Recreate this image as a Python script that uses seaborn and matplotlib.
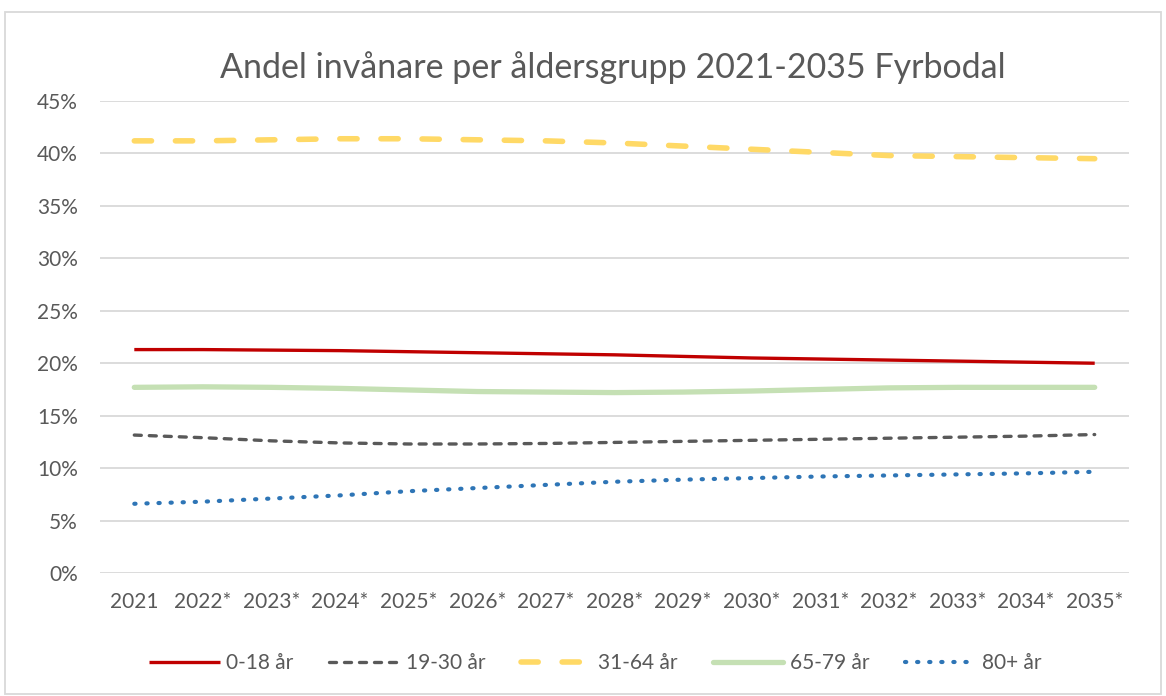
import matplotlib
matplotlib.use("Agg")
import matplotlib.pyplot as plt
import seaborn as sns
import pandas as pd
from matplotlib.patches import Rectangle
from matplotlib.ticker import FuncFormatter

years = ["2021", "2022*", "2023*", "2024*", "2025*", "2026*", "2027*", "2028*",
         "2029*", "2030*", "2031*", "2032*", "2033*", "2034*", "2035*"]

age_0_18 = [21.3, 21.3, 21.25, 21.2, 21.1, 21.0, 20.9, 20.8, 20.65, 20.5, 20.4, 20.3, 20.2, 20.1, 20.0]
age_19_30 = [13.15, 12.9, 12.6, 12.4, 12.3, 12.3, 12.35, 12.45, 12.55, 12.65, 12.75, 12.85, 12.95, 13.05, 13.2]
age_31_64 = [41.2, 41.2, 41.3, 41.4, 41.4, 41.3, 41.2, 41.0, 40.7, 40.4, 40.1, 39.8, 39.7, 39.6, 39.5]
age_65_79 = [17.7, 17.75, 17.7, 17.6, 17.45, 17.3, 17.25, 17.2, 17.25, 17.35, 17.5, 17.65, 17.7, 17.7, 17.7]
age_80 = [6.6, 6.8, 7.1, 7.4, 7.8, 8.1, 8.4, 8.7, 8.9, 9.05, 9.2, 9.3, 9.4, 9.5, 9.65]

series_names = ["0-18 år", "19-30 år", "31-64 år", "65-79 år", "80+ år"]
series_values = [age_0_18, age_19_30, age_31_64, age_65_79, age_80]

styles = {
    "0-18 år": dict(color="#C00000", lw=2.4, ls="-", solid_capstyle="butt"),
    "19-30 år": dict(color="#595959", lw=2.4, ls=(0, (2.1, 2.4)), dash_capstyle="round"),
    "31-64 år": dict(color="#FFD966", lw=4.0, ls=(0, (3.1, 4.3)), dash_capstyle="round"),
    "65-79 år": dict(color="#C5E0B4", lw=3.8, ls="-", solid_capstyle="round"),
    "80+ år": dict(color="#2E75B6", lw=3.0, ls=(0, (0.3, 2.6)), dash_capstyle="round"),
}

sns.set_theme(style="white")
plt.rcParams["font.family"] = ["Lato", "DejaVu Sans"]
text_color = "#595959"
fs = 15

fig = plt.figure(figsize=(11.66, 6.96), dpi=100)
ax = fig.add_axes([100 / 1166, 1 - 573 / 696, 1029 / 1166, (573 - 101) / 696])

x_idx = list(range(len(years)))
for name, vals in zip(series_names, series_values):
    df = pd.DataFrame({"x": x_idx, "y": vals})
    st = styles[name]
    line_ax = sns.lineplot(data=df, x="x", y="y", ax=ax, color=st["color"], label=name)
    ln = line_ax.get_lines()[-1]
    ln.set_linewidth(st["lw"])
    ln.set_linestyle(st["ls"])
    if "dash_capstyle" in st:
        ln.set_dash_capstyle(st["dash_capstyle"])
    if "solid_capstyle" in st:
        ln.set_solid_capstyle(st["solid_capstyle"])

ax.set_xlim(-0.5, len(years) - 0.5)
ax.set_ylim(0, 45)
ax.set_yticks(range(0, 46, 5))
ax.yaxis.set_major_formatter(FuncFormatter(lambda v, p: f"{int(v)}%"))
ax.set_xticks(x_idx)
ax.set_xticklabels(years)
ax.set_xlabel("")
ax.set_ylabel("")
ax.grid(axis="y", color="#D9D9D9", lw=1.3)
ax.grid(axis="x", visible=False)
for s in ax.spines.values():
    s.set_visible(False)
ax.tick_params(axis="both", length=0, labelsize=fs, colors=text_color)
ax.tick_params(axis="y", pad=16)
ax.tick_params(axis="x", pad=14)
for lbl in ax.get_xticklabels() + ax.get_yticklabels():
    lbl.set_color(text_color)

ax.get_legend().remove()
handles, labels = ax.get_legend_handles_labels()
fig.legend(handles, labels, loc="center", bbox_to_anchor=(0.5103, 1 - 663 / 696), ncol=5,
           frameon=False, fontsize=fs, handlelength=3.4, columnspacing=1.7,
           handletextpad=0.3, labelcolor=text_color)

fig.text(613 / 1166, 1 - 68 / 696, "Andel invånare per åldersgrupp 2021-2035 Fyrbodal",
         ha="center", va="center", fontsize=24.5, color=text_color)

fig.patches.append(Rectangle((5 / 1166, 2 / 696), 1156 / 1166, 682 / 696, transform=fig.transFigure,
                             fill=False, edgecolor="#D9D9D9", lw=1.3))

fig.savefig("out.png", dpi=100)
